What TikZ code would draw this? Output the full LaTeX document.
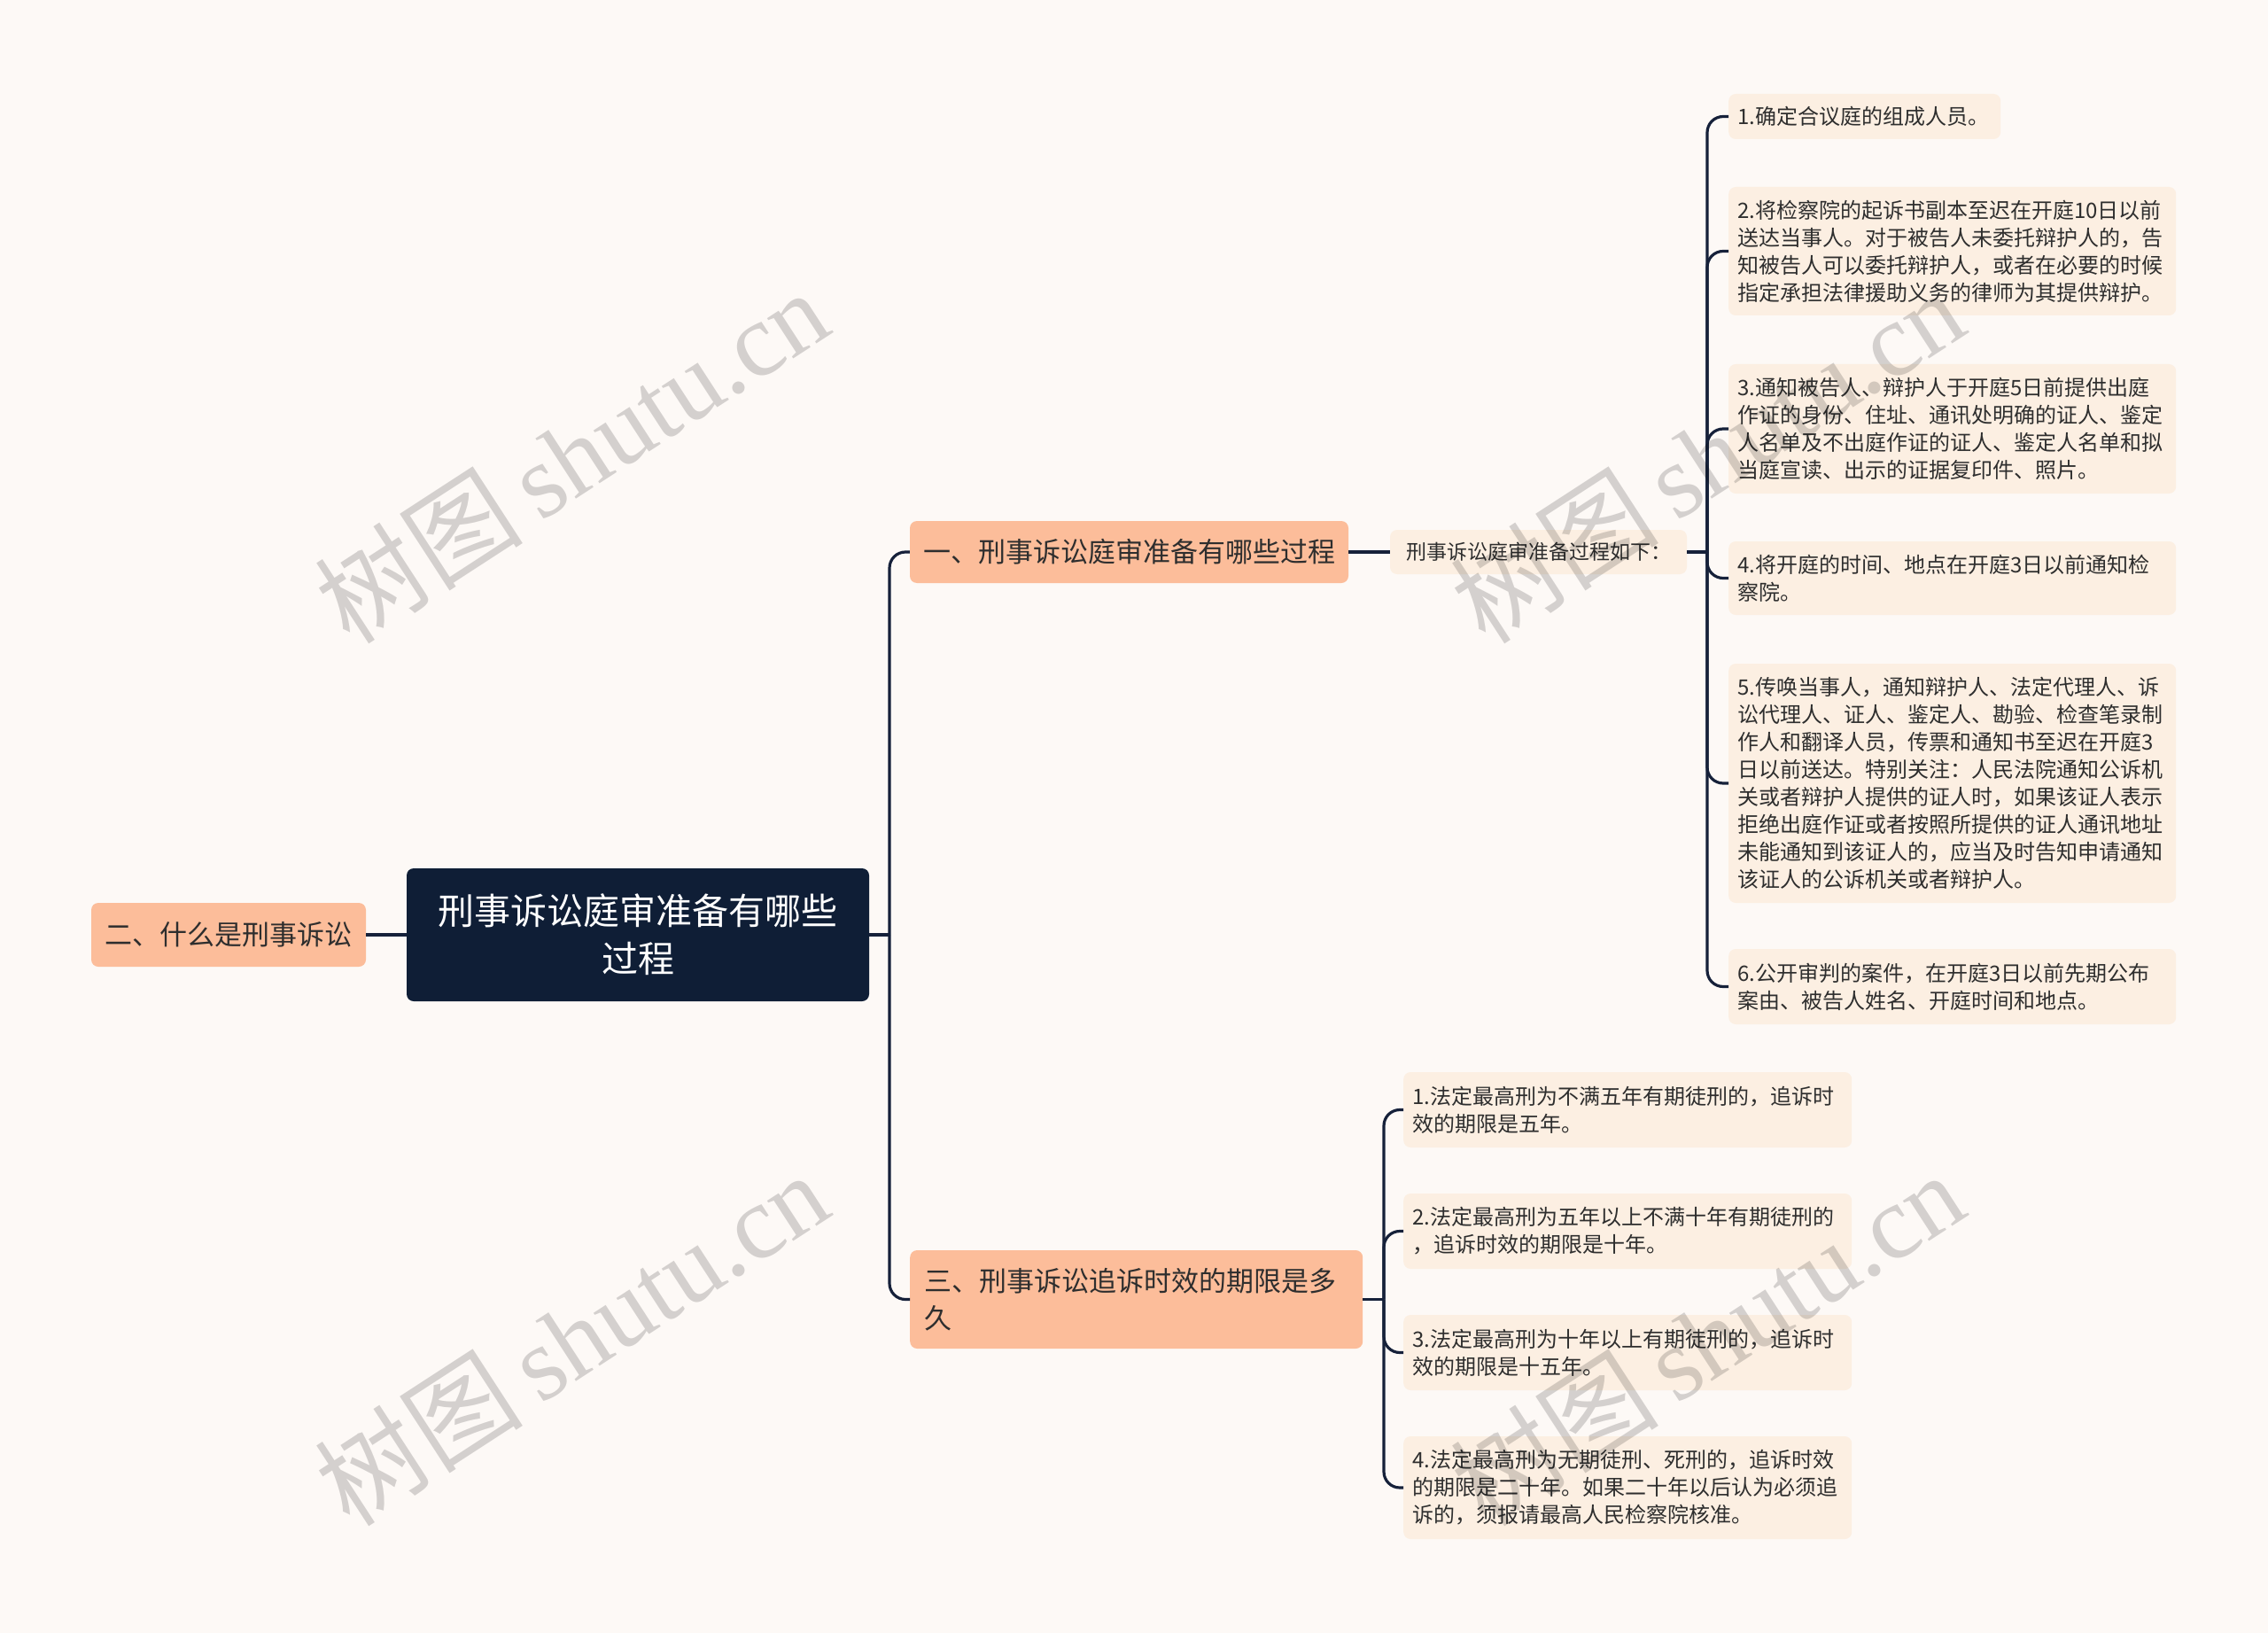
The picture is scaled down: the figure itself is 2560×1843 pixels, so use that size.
\documentclass[tikz,border=0pt]{standalone}
\usepackage{fontspec}
\setmainfont{Noto Sans CJK SC}
\newfontfamily\wmlatin{Liberation Serif}
\definecolor{bgc}{HTML}{FDF9F6}
\definecolor{rootc}{HTML}{0F1E36}
\definecolor{peach}{HTML}{FCBD9A}
\definecolor{leafc}{HTML}{FCEFE2}
\definecolor{linec}{HTML}{16213A}
\definecolor{txt}{HTML}{2E2E2E}
\begin{document}
\begin{tikzpicture}[x=1pt,y=-1pt,
  conn/.style={draw=linec, line width=3.2pt, rounded corners=18pt},
  rootbox/.style={fill=rootc, rounded corners=8pt, text=white, align=center, inner sep=0pt,
    font=\fontsize{41}{54}\selectfont},
  branch/.style={fill=peach, rounded corners=8pt, text=txt, inner sep=0pt,
    font=\fontsize{31}{42}\selectfont},
  subbox/.style={fill=leafc, rounded corners=8pt, text=txt, inner sep=0pt,
    font=\fontsize{23}{31}\selectfont},
  leaf/.style={fill=leafc, rounded corners=8pt, anchor=west, align=left, text=txt,
    inner xsep=10pt, inner ysep=0pt, font=\fontsize{24}{31}\selectfont},
  wm/.style={text=black, opacity=0.16, rotate=33, inner sep=0pt}]
\fill[bgc] (0,0) rectangle (2560,1843);
\useasboundingbox (0,0) rectangle (2560,1843);

% main nodes
\node[rootbox, minimum width=522pt, minimum height=150pt] (root) at (720,1055)
  {刑事诉讼庭审准备有哪些\\过程};
\node[branch, minimum width=310pt, minimum height=72pt] (n2) at (258,1055) {二、什么是刑事诉讼};
\node[branch, minimum width=495pt, minimum height=70pt] (n1) at (1274.5,623) {一、刑事诉讼庭审准备有哪些过程};
\node[branch, align=left, anchor=west, inner xsep=16pt, text width=479pt, minimum height=111pt] (n3) at (1027,1466.5)
  {三、刑事诉讼追诉时效的期限是多\\久};
\node[subbox, minimum width=335pt, minimum height=50pt] (sub) at (1736.5,623) {刑事诉讼庭审准备过程如下：};

% leaves of sub
\node[leaf, text width=287pt, minimum height=51pt] (L1) at (1951,131.5) {1.确定合议庭的组成人员。};
\node[leaf, text width=485pt, minimum height=145pt] (L2) at (1951,283.5)
  {2.将检察院的起诉书副本至迟在开庭10日以前\\送达当事人。对于被告人未委托辩护人的，告\\知被告人可以委托辩护人，或者在必要的时候\\指定承担法律援助义务的律师为其提供辩护。};
\node[leaf, text width=485pt, minimum height=146pt] (L3) at (1951,484)
  {3.通知被告人、辩护人于开庭5日前提供出庭\\作证的身份、住址、通讯处明确的证人、鉴定\\人名单及不出庭作证的证人、鉴定人名单和拟\\当庭宣读、出示的证据复印件、照片。};
\node[leaf, text width=485pt, minimum height=83pt] (L4) at (1951,652.5)
  {4.将开庭的时间、地点在开庭3日以前通知检\\察院。};
\node[leaf, text width=485pt, minimum height=270pt] (L5) at (1951,884)
  {5.传唤当事人，通知辩护人、法定代理人、诉\\讼代理人、证人、鉴定人、勘验、检查笔录制\\作人和翻译人员，传票和通知书至迟在开庭3\\日以前送达。特别关注：人民法院通知公诉机\\关或者辩护人提供的证人时，如果该证人表示\\拒绝出庭作证或者按照所提供的证人通讯地址\\未能通知到该证人的，应当及时告知申请通知\\该证人的公诉机关或者辩护人。};
\node[leaf, text width=485pt, minimum height=85pt] (L6) at (1951,1113.5)
  {6.公开审判的案件，在开庭3日以前先期公布\\案由、被告人姓名、开庭时间和地点。};

% leaves of n3
\node[leaf, text width=486pt, minimum height=85pt] (M1) at (1584,1252.5)
  {1.法定最高刑为不满五年有期徒刑的，追诉时\\效的期限是五年。};
\node[leaf, text width=486pt, minimum height=85pt] (M2) at (1584,1389.5)
  {2.法定最高刑为五年以上不满十年有期徒刑的\\，追诉时效的期限是十年。};
\node[leaf, text width=486pt, minimum height=85pt] (M3) at (1584,1526.5)
  {3.法定最高刑为十年以上有期徒刑的，追诉时\\效的期限是十五年。};
\node[leaf, text width=486pt, minimum height=116pt] (M4) at (1584,1679)
  {4.法定最高刑为无期徒刑、死刑的，追诉时效\\的期限是二十年。如果二十年以后认为必须追\\诉的，须报请最高人民检察院核准。};

% junctions
\coordinate (j0) at (1004,1055);
\coordinate (j1) at (1927,623);
\coordinate (j3) at (1562,1466.5);

% connectors
\draw[conn] (n2.east) -- (root.west);
\draw[conn] (root.east) -- (j0);
\draw[conn] (j0) |- (n1.west);
\draw[conn] (j0) |- (n3.west);
\draw[conn] (n1.east) -- (sub.west);
\draw[conn] (sub.east) -- (j1);
\foreach \t in {L1,L2,L3,L4,L5,L6} \draw[conn] (j1) |- (\t.west);
\draw[conn] (n3.east) -- (j3);
\foreach \t in {M1,M2,M3,M4} \draw[conn] (j3) |- (\t.west);

% watermarks
\foreach \p [count=\i] in {(645,514),(1927,514),(645,1510),(1927,1510)}
  \node[wm] (wm\i) at \p {\fontsize{118}{118}\selectfont 树图\,{\wmlatin shutu.cn}};
\end{tikzpicture}
\end{document}
